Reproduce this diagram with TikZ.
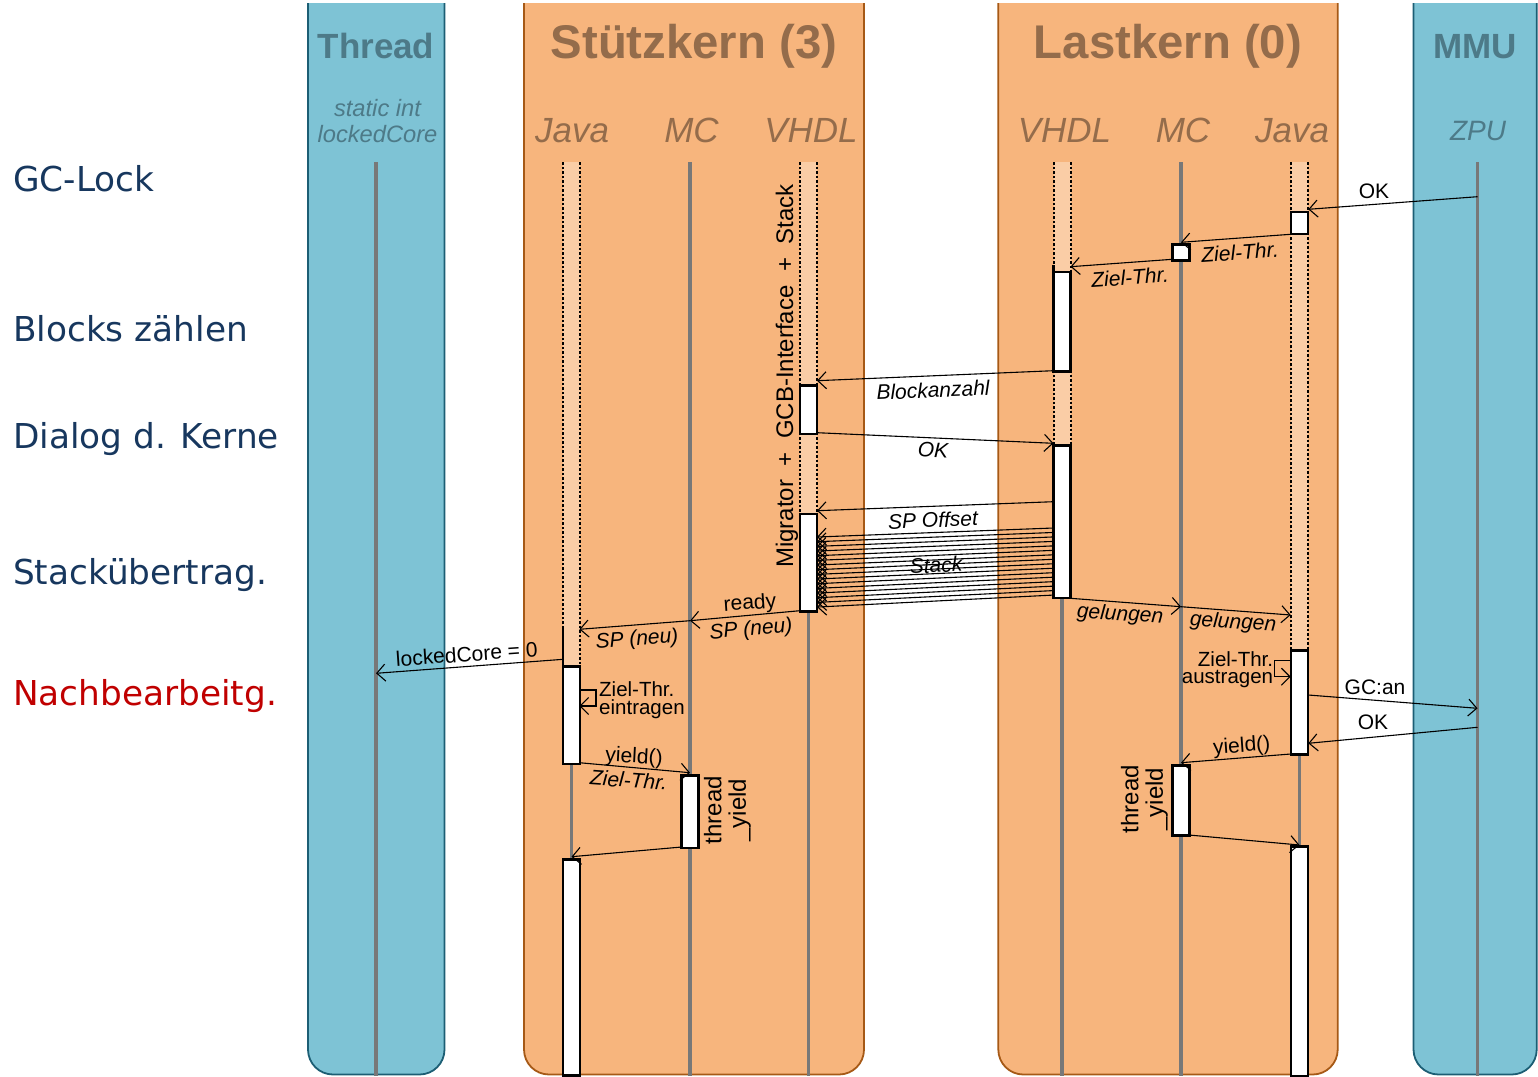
\documentclass[tikz,border=0pt]{standalone}
\usepackage{fontspec}
\setmainfont{Liberation Sans}
\newfontfamily\phasefont{DejaVu Sans}
\usetikzlibrary{arrows.meta}

\definecolor{orfill}{RGB}{247,181,125}
\definecolor{ordraw}{RGB}{166,89,22}
\definecolor{blfill}{RGB}{126,195,213}
\definecolor{bldraw}{RGB}{28,94,116}
\definecolor{ortext}{RGB}{148,108,75}
\definecolor{bltext}{RGB}{77,122,136}
\definecolor{peach}{RGB}{250,205,166}
\definecolor{lifegray}{RGB}{120,120,120}
\definecolor{navy}{RGB}{23,55,94}
\definecolor{phasered}{RGB}{192,0,0}

% inactive part of an activation bar: pale fill with dotted sides
\newcommand\idlebar[3]{%
  \fill[peach] ({#1-8.5},#2) rectangle ({#1+8.5},#3);
  \draw[idleedge] ({#1-8.5},#2) -- ({#1-8.5},#3) ({#1+8.5},#2) -- ({#1+8.5},#3);}

\begin{document}
\begin{tikzpicture}[x=1pt,y=-1pt,
  laneO/.style={fill=orfill,draw=ordraw,line width=1.8pt,rounded corners=25pt},
  laneB/.style={fill=blfill,draw=bldraw,line width=1.8pt,rounded corners=25pt},
  life/.style={draw=lifegray,line width=3.3pt},
  idleedge/.style={draw=black,line width=2pt,dash pattern=on 2.5pt off 2pt},
  act/.style={draw=black,fill=white,line width=2.6pt,rectangle,minimum width=17pt,inner sep=0pt,anchor=north},
  msg/.style={draw=black,line width=1.1pt,-{Straight Barb[length=8.5pt,width=17pt]}},
  bigtitle/.style={font=\fontsize{47.3}{52}\selectfont\bfseries,text=ortext,anchor=base,inner sep=0pt},
  smalltitle/.style={font=\fontsize{35}{40}\selectfont\bfseries,text=bltext,anchor=base,inner sep=0pt},
  part/.style={font=\fontsize{35}{40}\selectfont\itshape,text=ortext,anchor=base,inner sep=0pt},
  phase/.style={font=\phasefont\fontsize{34.3}{40}\selectfont,text=navy,anchor=base west,inner sep=0pt},
  lbl/.style={font=\fontsize{21}{23}\selectfont,inner sep=0pt},
  ilbl/.style={font=\fontsize{21}{23}\selectfont\itshape,inner sep=0pt},
  note/.style={font=\fontsize{20.5}{17.5}\selectfont,inner sep=0pt},
  vnote/.style={font=\fontsize{24}{24.5}\selectfont,inner sep=0pt,rotate=90,align=center}
]
\useasboundingbox (0,0) rectangle (1538,1076);
\clip (0,0) rectangle (1538,1076);

% swim lanes (their tops run just under the upper edge)
\begin{scope}
\clip (0,3) rectangle (1538,1076);
\draw[laneB] (308,-60) rectangle (444.5,1074.5);
\draw[laneO] (524,-60) rectangle (864,1074.5);
\draw[laneO] (998.3,-60) rectangle (1337.7,1074.5);
\draw[laneB] (1413.5,-60) rectangle (1536.7,1074.5);
\end{scope}

% lane headings
\node[smalltitle] (hThread) at (376,58.3) {Thread};
\node[bigtitle] (hStuetz) at (694,58.3) {Stützkern (3)};
\node[bigtitle] (hLast) at (1168,58.3) {Lastkern (0)};
\node[smalltitle] (hMMU) at (1475,58.3) {MMU};

\node[font=\fontsize{23.7}{26}\selectfont\itshape,text=bltext,align=center,inner sep=0pt,anchor=base]
  (hVar) at (377.5,142.7) {static int\\lockedCore};
\node[part] (hSJ) at (572,142.7) {Java};
\node[part] (hSM) at (691.5,142.7) {MC};
\node[part] (hSV) at (811,142.7) {VHDL};
\node[part] (hLV) at (1064.5,142.7) {VHDL};
\node[part] (hLM) at (1183,142.7) {MC};
\node[part] (hLJ) at (1292,142.7) {Java};
\node[font=\fontsize{28}{30}\selectfont\itshape,text=bltext,anchor=base,inner sep=0pt] (hZPU) at (1478,140.3) {ZPU};

% phases
\node[phase] (pLock) at (13,191.7) {GC-Lock};
\node[phase] (pCount) at (13,341) {Blocks zählen};
\node[phase] (pDialog) at (13,448) {Dialog d. Kerne};
\node[phase] (pStack) at (13,584) {Stackübertrag.};
\node[phase,text=phasered] (pPost) at (13,705.6) {Nachbearbeitg.};

% lifelines
\foreach \lx in {376,571.5,690,808.5,1062,1181,1299.5,1477.5}
  \draw[life] (\lx,162.3) -- (\lx,1076);

% inactive bar sections
\idlebar{571.5}{162.3}{665}
\idlebar{808.5}{162.3}{384}
\idlebar{808.5}{432.7}{512.7}
\idlebar{1062}{162.3}{270.7}
\idlebar{1062}{370}{444}
\idlebar{1299.5}{162.3}{210.7}
\idlebar{1299.5}{232.7}{649}
% solid edges where an activation begins on arrival of a message
\draw[black,line width=2.6pt] (563,626) -- (563,666);
\draw[black,line width=2.6pt] (1053.5,265) -- (1053.5,272);

% activation boxes
\node[act,minimum height=97.7pt] (sj1) at (571.5,665) {};
\node[act,minimum height=216pt] (sj2) at (571.5,858.3) {};
\node[act,minimum height=72.7pt] (sm1) at (690,774) {};
\node[act,minimum height=48.7pt] (sv1) at (808.5,384) {};
\node[act,minimum height=97.3pt] (sv2) at (808.5,512.7) {};
\node[act,minimum height=99.3pt] (lv1) at (1062,270.7) {};
\node[act,minimum height=152.7pt] (lv2) at (1062,444) {};
\node[act,minimum height=15.7pt] (lm1) at (1181,243.3) {};
\node[act,minimum height=69.7pt] (lm2) at (1181,764.3) {};
\node[act,minimum height=22pt] (lj1) at (1299.5,210.7) {};
\node[act,minimum height=104.3pt] (lj2) at (1299.5,649) {};
\node[act,minimum height=229.5pt] (lj3) at (1299.5,845) {};

\node[vnote,anchor=base] (ifc) at (793,376)
  {Migrator\hspace{13.5pt}+\hspace{13.5pt}GCB-Interface\hspace{13.5pt}+\hspace{13.5pt}Stack};
\node[vnote] (tyS) at (727.5,810) {thread\\\_yield};
\node[vnote] (tyL) at (1144.5,799) {thread\\\_yield};

% message end points
\coordinate (zOk1) at (1477.5,196.7);   \coordinate (ljOk1) at (1308.3,209.3);
\coordinate (ljZ) at (1290.7,234.3);    \coordinate (lmZ) at (1181,242.3);
\coordinate (lmZb) at (1172.5,259.3);   \coordinate (lvZ) at (1070.5,266.7);
\coordinate (lvB) at (1053.5,370.7);    \coordinate (svB) at (817,380.7);
\coordinate (svO) at (817,432.7);       \coordinate (lvO) at (1053.5,443.3);
\coordinate (lvS) at (1053.5,501.7);    \coordinate (svS) at (817,510.7);
\coordinate (svR) at (800,610.7);       \coordinate (smR) at (690,620.7);
\coordinate (sjR) at (579.3,629.3);
\coordinate (sjL) at (563.3,659.3);     \coordinate (thL) at (376,673.3);
\coordinate (sjY) at (579.3,762.7);     \coordinate (smY) at (690,772.7);
\coordinate (smB) at (681.7,847);       \coordinate (sjB) at (571.5,856.7);
\coordinate (lvG) at (1070.5,598.3);    \coordinate (lmG) at (1181,606.7);
\coordinate (ljG) at (1290.7,615);
\coordinate (ljGC) at (1308.3,695);     \coordinate (zGC) at (1477.5,708.3);
\coordinate (zOk2) at (1477.5,727.3);   \coordinate (ljOk2) at (1308.3,743.3);
\coordinate (ljY) at (1290.7,754);      \coordinate (lmY) at (1181,762.7);
\coordinate (lmB) at (1189,835);        \coordinate (ljB) at (1299.5,845);

% messages
\draw[msg] (zOk1) -- (ljOk1);
\draw[msg] (ljZ) -- (lmZ);
\draw[msg] (lmZb) -- (lvZ);
\draw[msg] (lvB) -- (svB);
\draw[msg] (svO) -- (lvO);
\draw[msg] (lvS) -- (svS);
\foreach \i in {0,...,15}
  \draw[msg] (1053.5,{528+4.47*\i}) -- (817,{537+4.67*\i});
\draw[msg] (svR) -- (smR);
\draw[msg] (smR) -- (sjR);
\draw[msg] (sjL) -- (thL);
\draw[msg] (579.3,690) -- (596,690) -- (596,706) -- (579.3,706);
\draw[msg] (sjY) -- (smY);
\draw[msg] (smB) -- (sjB);
\draw[msg] (lvG) -- (lmG);
\draw[msg] (lmG) -- (ljG);
\draw[msg] (1290.7,660.7) -- (1274.3,660.7) -- (1274.3,676.7) -- (1290.7,676.7);
\draw[msg] (ljGC) -- (zGC);
\draw[msg] (zOk2) -- (ljOk2);
\draw[msg] (ljY) -- (lmY);
\draw[msg] (lmB) -- (ljB);

% message labels
\node[lbl] (tOk1) at (1374,191.7) {OK};
\node[ilbl,rotate=4] (tZ1) at (1240,252.3) {Ziel-Thr.};
\node[ilbl,rotate=4] (tZ2) at (1130,277.3) {Ziel-Thr.};
\node[ilbl,rotate=2.4] (tBlk) at (933,390) {Blockanzahl};
\node[ilbl,rotate=-2.4] (tOk) at (933,450) {OK};
\node[ilbl,rotate=2.4] (tSP) at (933,520) {SP Offset};
\node[ilbl,rotate=2.4] (tStk) at (936,565) {Stack};
\node[lbl,rotate=4] (tRdy) at (750,604) {ready};
\node[ilbl,rotate=5] (tSP2) at (751,630) {SP (neu)};
\node[ilbl,rotate=4] (tSP1) at (637,640) {SP (neu)};
\node[lbl,rotate=4] (tLck) at (466.7,654) {lockedCore = 0};
\node[note,align=left,anchor=west] (tEin) at (599,700) {Ziel-Thr.\\eintragen};
\node[lbl,rotate=-3] (tY1) at (634,757.5) {yield()};
\node[ilbl,rotate=-4] (tZ3) at (628.7,780) {Ziel-Thr.};
\node[ilbl,rotate=-4] (tG1) at (1120,615) {gelungen};
\node[ilbl,rotate=-4] (tG2) at (1233,623) {gelungen};
\node[note,align=right,anchor=east] (tAus) at (1273.3,669.5) {Ziel-Thr.\\austragen};
\node[lbl] (tGC) at (1375,687.3) {GC:an};
\node[lbl] (tOk2) at (1373,722.7) {OK};
\node[lbl,rotate=4] (tY2) at (1241.7,746.7) {yield()};
\end{tikzpicture}
\end{document}
